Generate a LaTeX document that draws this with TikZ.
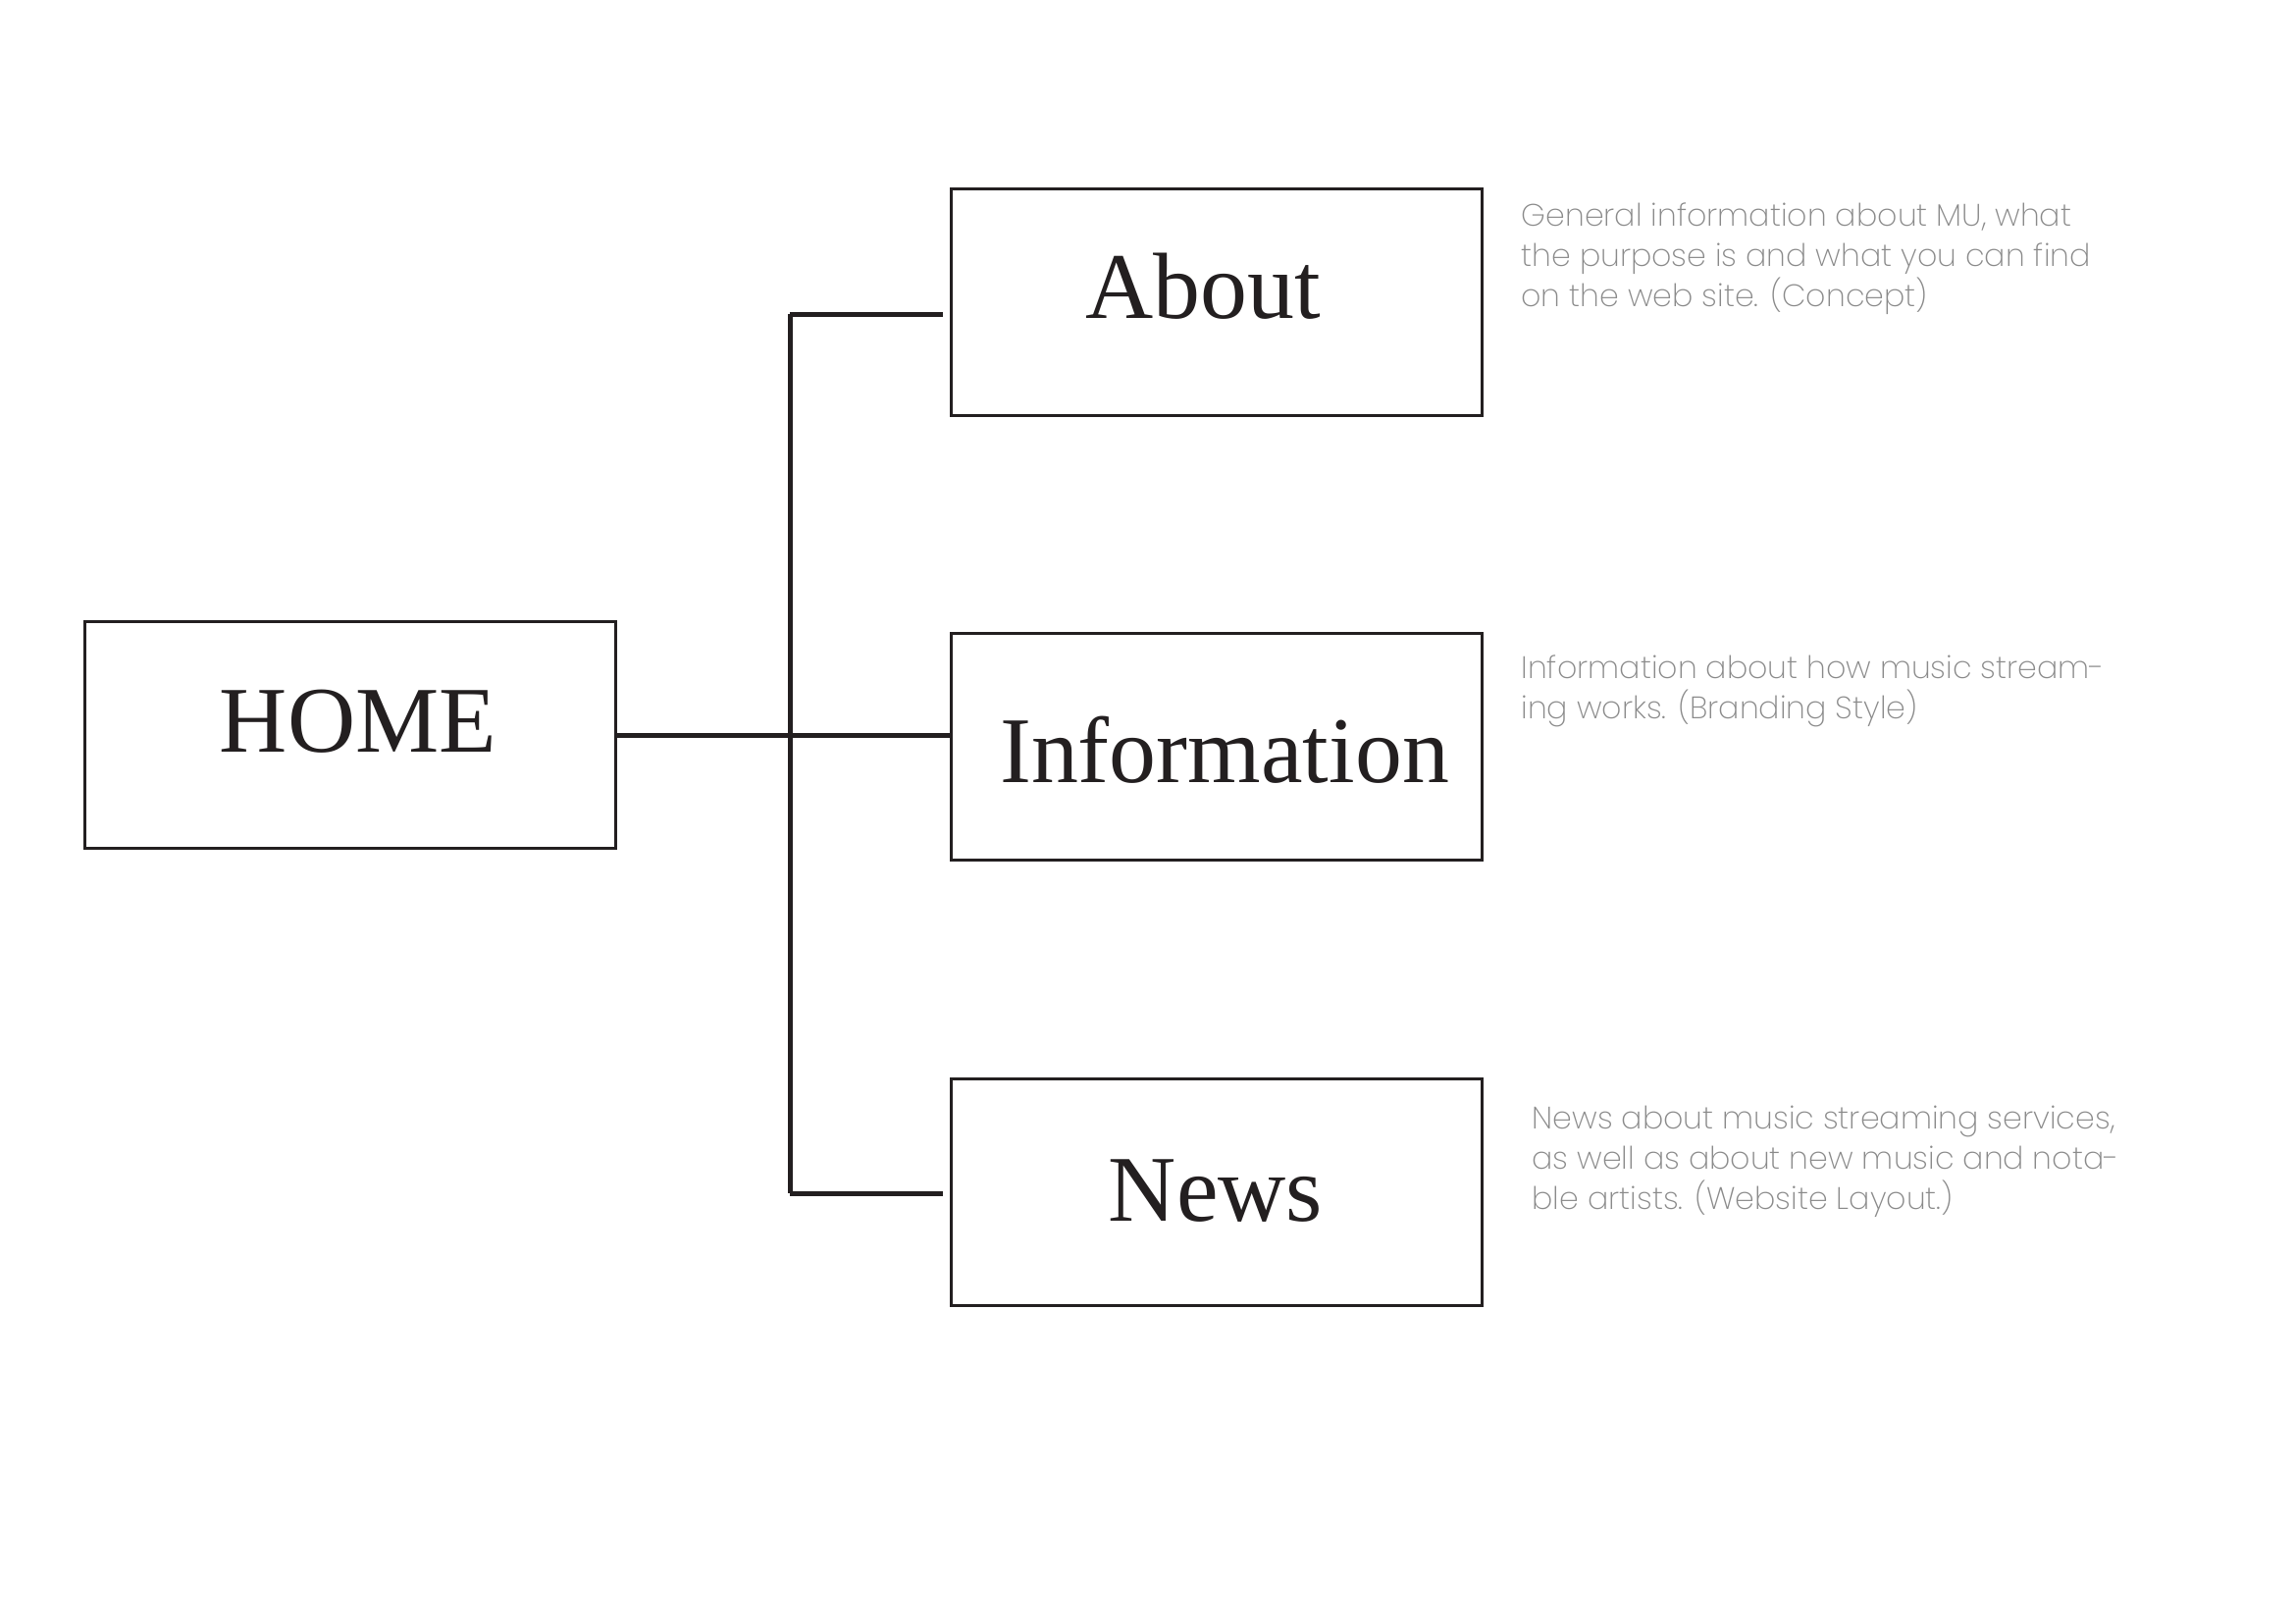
\documentclass[tikz,border=0pt]{standalone}
\usepackage{fontspec}
\setmainfont{Liberation Serif}
\newfontfamily\descfont{Poppins ExtraLight}
\definecolor{ink}{HTML}{231F20}
\definecolor{desc}{HTML}{8A8A8A}
\begin{document}
\begin{tikzpicture}[x=0.36pt,y=-0.36pt,
  box/.style={draw=ink,line width=1pt,minimum width=194.8pt,minimum height=83pt,inner sep=0pt},
  lab/.style={anchor=base,text=ink,font=\fontsize{34.5}{40}\selectfont},
  note/.style={anchor=base west,align=left,text=desc,inner sep=0pt,font=\descfont\fontsize{11.4}{14.6}\selectfont},
  conn/.style={draw=ink,line width=1.8pt}]
\useasboundingbox (0,0) rectangle (2339,1654);
\node[box] (home) at (357,749) {};
\node[box] (about) at (1240,308) {};
\node[box] (info) at (1240,761) {};
\node[box] (news) at (1240,1215) {};
\node[lab] (homet) at (365,766) {HOME};
\node[lab] (aboutt) at (1226,324) {About};
\node[lab] (infot) at (1248,797) {Information};
\node[lab] (newst) at (1239,1244) {News};
\coordinate (ta) at (805,320);
\coordinate (tn) at (805,1216);
\draw[conn] (home.east) -- (home.east -| info.west);
\draw[conn] (ta) -- (tn);
\draw[conn] (ta) -- ([xshift=-2.5pt]ta -| about.west);
\draw[conn] (tn) -- ([xshift=-2.5pt]tn -| news.west);
\node[note] (d1) at (1550,312) {General information about MU, what\\the purpose is and what you can find\\on the web site. (Concept)};
\node[note] (d2) at (1550,732) {Information about how music stream-\\ing works. (Branding Style)};
\node[note] (d3) at (1561,1232) {News about music streaming services,\\as well as about new music and nota-\\ble artists. (Website Layout.)};
\end{tikzpicture}
\end{document}
